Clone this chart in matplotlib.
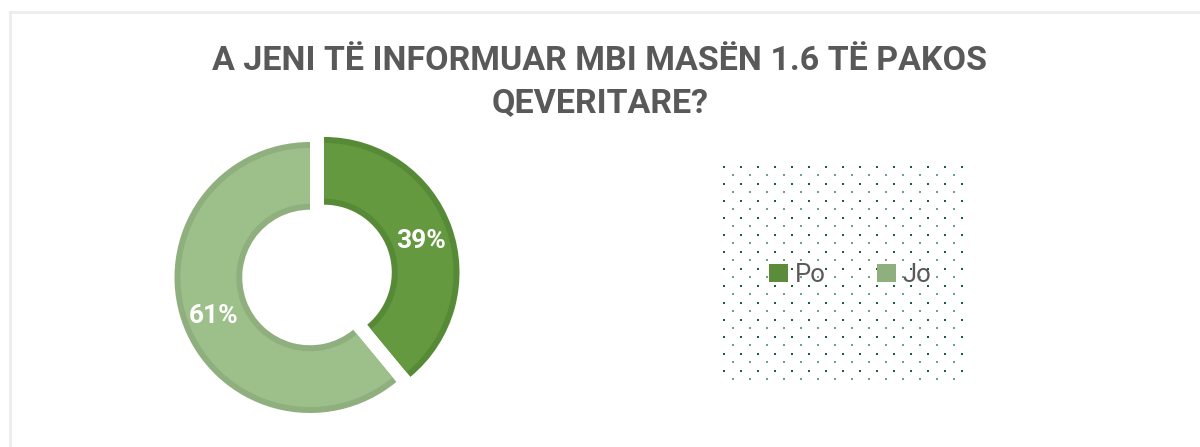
import matplotlib
matplotlib.use("Agg")
import numpy as np
import matplotlib.pyplot as plt
from matplotlib.patches import Rectangle
from matplotlib.lines import Line2D

labels = ["Po", "Jo"]
values = [39, 61]
fill_colors = ["#64993f", "#9dc08b"]
edge_colors = ["#578a36", "#8fb07e"]
legend_colors = ["#5a8c39", "#8fb07e"]
title_lines = ["A JENI TË INFORMUAR MBI MASËN 1.6 TË PAKOS", "QEVERITARE?"]

W, H = 1200, 447
fig = plt.figure(figsize=(W / 100, H / 100), dpi=100)
fig.patch.set_facecolor("white")

# light frame around the chart
fig.add_artist(Line2D([10 / W, 10 / W], [0, 1 - 12 / H], color="#ececec", lw=2))
fig.add_artist(Line2D([10 / W, 1], [1 - 12 / H, 1 - 12 / H], color="#ececec", lw=2))

font = ["Roboto", "DejaVu Sans"]
grey = "#595959"

for i, line in enumerate(title_lines):
    fig.text(0.5, 1 - (70 + 42 * i) / H, line, ha="center", va="baseline",
             fontsize=24.5, fontweight="bold", color=grey, family=font)

# donut
cx, cy, r = 310, 277.5, 135.5
size = 2 * r * 1.2
ax = fig.add_axes([(cx - size / 2) / W, 1 - (cy + size / 2) / H, size / W, size / H])
ax.axis("off")

explode = [0.11, 0]
d = 6 / r
ax.pie(values, radius=1, startangle=90, counterclock=False, explode=explode,
       colors=edge_colors, wedgeprops=dict(width=0.5, linewidth=0))
_, _, texts = ax.pie(values, radius=1 - d, startangle=90, counterclock=False,
                     explode=explode, colors=fill_colors,
                     wedgeprops=dict(width=0.5 - 2 * d, linewidth=0),
                     autopct="%d%%", pctdistance=0.76 / (1 - d))
for t in texts:
    t.set_color("white")
    t.set_fontsize(19)
    t.set_fontweight("bold")
    t.set_family(font)
    x, y = t.get_position()
    t.set_position((x, y - 0.025))
ax.set_xlim(-1.2, 1.2)
ax.set_ylim(-1.2, 1.2)
ax.set_aspect("equal")

# dotted plot area behind the legend
bg = fig.add_axes([0, 0, 1, 1], zorder=-1)
bg.set_xlim(0, W)
bg.set_ylim(H, 0)
bg.axis("off")
gx, gy = np.meshgrid(np.arange(724, 963, 17), np.arange(166.5, 371, 17))
bg.scatter(gx.ravel(), gy.ravel(), s=2.2, marker="s", color="#17603c", linewidths=0)
gx, gy = np.meshgrid(np.arange(732.5, 954, 17), np.arange(175, 380, 17))
bg.scatter(gx.ravel(), gy.ravel(), s=1.6, marker="s", color="#6f9f86", linewidths=0)

handles = [Rectangle((0, 0), 1, 1, facecolor=c, edgecolor="none") for c in legend_colors]
leg = fig.legend(handles, labels, loc="center", ncol=2, frameon=False,
                 bbox_to_anchor=(850 / W, 1 - 275 / H),
                 handlelength=0.74, handleheight=0.74,
                 handletextpad=0.27, columnspacing=2.0,
                 prop=dict(family=font, size=18.5))
for t in leg.get_texts():
    t.set_color(grey)

fig.savefig("out.png", dpi=100)
